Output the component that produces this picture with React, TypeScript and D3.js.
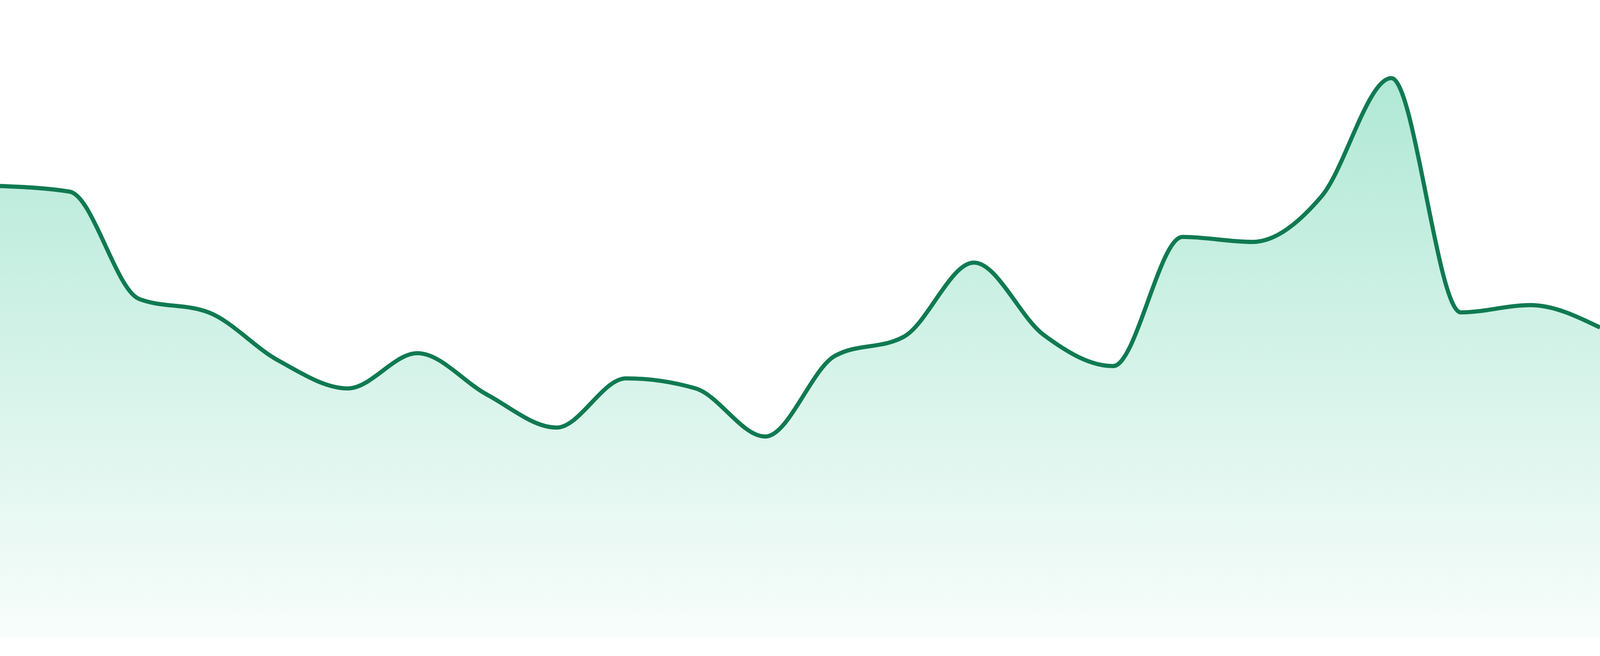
// react
import { useEffect, useRef } from "react";

// d3
import * as d3 from "d3";

// one value per step (0 = baseline, 100 = top peak)
const steps = d3.range(24);
const values = [
  80.7, 79.7, 60.5, 58.1, 49.5, 44.5, 50.8, 43.4, 37.5, 46.3, 44.5, 35.9,
  50.3, 53.8, 67.0, 54.1, 48.5, 71.6, 70.7, 78.9, 100, 58.1, 59.4, 55.4,
];

const LINE = "#107a51";
const FILL = "#10b981";

export default function App() {
  // ref for the svg element
  const ref = useRef<SVGSVGElement>(null);

  useEffect(() => {
    if (!ref.current) return;
    const svg = d3.select(ref.current);
    svg.selectAll("*").remove();

    // the svg is stretched over the viewport; draw in its real pixel size
    const box = ref.current.getBoundingClientRect();
    const W = box.width || 4800;
    const H = box.height || 1680;
    const m = {
      top: (200 / 1680) * H,
      right: 0,
      bottom: (48 / 1680) * H,
      left: 0,
    };
    const w = W - m.left - m.right;
    const h = H - m.top - m.bottom;
    const k = Math.sqrt((W / 4800) * (H / 1680));

    svg.attr("viewBox", `0 0 ${W} ${H}`);

    const x = d3
      .scaleLinear()
      .domain([0, steps.length - 1])
      .range([0, w]);
    const y = d3.scaleLinear().domain([0, 100]).range([h, 0]);

    // gradient under the line
    const grad = svg
      .append("defs")
      .append("linearGradient")
      .attr("id", "areaFill")
      .attr("x1", 0)
      .attr("y1", 0)
      .attr("x2", 0)
      .attr("y2", 1);
    grad
      .append("stop")
      .attr("offset", "0%")
      .attr("stop-color", FILL)
      .attr("stop-opacity", 0.33);
    grad
      .append("stop")
      .attr("offset", "100%")
      .attr("stop-color", FILL)
      .attr("stop-opacity", 0.03);

    const g = svg
      .append("g")
      .attr("transform", `translate(${m.left},${m.top})`);

    const area = d3
      .area<number>()
      .x((_, i) => x(steps[i]))
      .y0(h)
      .y1((d) => y(d))
      .curve(d3.curveMonotoneX);

    const line = d3
      .line<number>()
      .x((_, i) => x(steps[i]))
      .y((d) => y(d))
      .curve(d3.curveMonotoneX);

    g.append("path")
      .datum(values)
      .attr("fill", "url(#areaFill)")
      .attr("d", area);

    g.append("path")
      .datum(values)
      .attr("fill", "none")
      .attr("stroke", LINE)
      .attr("stroke-width", 11.5 * k)
      .attr("stroke-linejoin", "round")
      .attr("d", line);
  }, []);

  return (
    <svg
      ref={ref}
      style={{
        position: "fixed",
        left: 0,
        top: 0,
        width: "100vw",
        height: "100vh",
        display: "block",
        background: "#fff",
      }}
    />
  );
}
